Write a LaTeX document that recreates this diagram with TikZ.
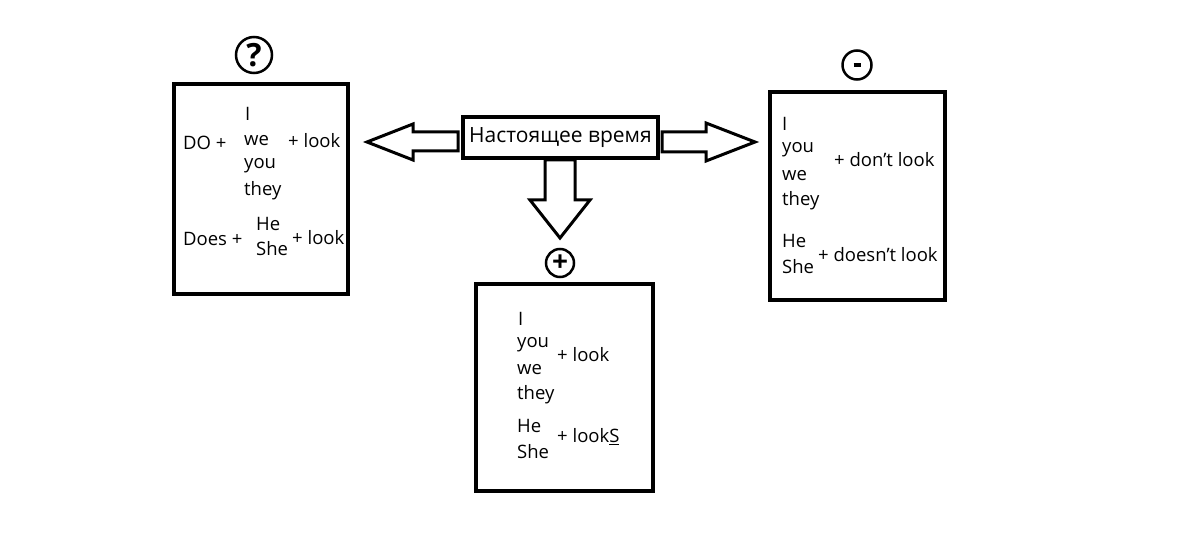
\documentclass[tikz,border=0pt]{standalone}
\usepackage{fontspec}
\setmainfont{Open Sans}
\usetikzlibrary{positioning}

\tikzset{
  box/.style={draw, line width=4pt, inner sep=0pt},
  blockarr/.style={draw, line width=3pt, line join=miter, fill=white},
  sign/.style={draw, circle, line width=2.5pt, inner sep=0pt, font=\fontsize{28}{28}\selectfont\bfseries},
  txt/.style={anchor=west, inner sep=0pt, font=\fontsize{18.5}{20}\selectfont}
}

\begin{document}
\begin{tikzpicture}[x=1pt, y=-1pt]
\useasboundingbox[fill=white] (0,0) rectangle (1200,553);

% boxes
\node[box, minimum width=174, minimum height=210] (qbox) at (261,189) {};
\node[box, minimum width=175, minimum height=208] (nbox) at (857.5,196) {};
\node[box, minimum width=177, minimum height=207] (pbox) at (564.5,387.5) {};

% block arrows
\draw[blockarr] (458,132) -- (413,132) -- (413,124) -- (367,142) -- (413,160) -- (413,151) -- (458,151) -- cycle;
\draw[blockarr] (662,132) -- (706,132) -- (706,123) -- (755,142) -- (706,161) -- (706,152) -- (662,152) -- cycle;
\draw[blockarr] (545,160) -- (575,160) -- (575,200) -- (590,200) -- (560,238) -- (530,200) -- (545,200) -- cycle;

\node[box, fill=white, minimum width=195, minimum height=41,
  font=\fontsize{21}{24}\selectfont] (now) at (560.5,137.5) {Настоящее время};

% signs
\node[sign, minimum size=36, font=\fontsize{32}{32}\selectfont\bfseries] (qsign) at (254,55) {?};
\node[sign, minimum size=29] (nsign) at (857,65) {\rule{7pt}{4pt}};
\node[sign, minimum size=28] (psign) at (560,263) {+};

% question
\node[txt] (q_do) at (183,143) {DO +};
\node[txt] (q_i) at (245,114) {I};
\node[txt] (q_we) at (244,141) {we};
\node[txt] (q_you) at (244,166) {you};
\node[txt] (q_they) at (244,191) {they};
\node[txt] (q_look) at (288,141) {+ look};
\node[txt] (q_does) at (183,239) {Does +};
\node[txt] (q_he) at (256,224) {He};
\node[txt] (q_she) at (256,249) {She};
\node[txt] (q_look2) at (292,238) {+ look};

% negative
\node[txt] (n_i) at (782,124) {I};
\node[txt] (n_you) at (782,150) {you};
\node[txt] (n_we) at (782,176) {we};
\node[txt] (n_they) at (782,201) {they};
\node[txt] (n_look) at (834,160) {+ don't look};
\node[txt] (n_he) at (782,241) {He};
\node[txt] (n_she) at (782,267) {She};
\node[txt] (n_look2) at (818,255) {+ doesn't look};

% positive
\node[txt] (p_i) at (518,319) {I};
\node[txt] (p_you) at (517,345) {you};
\node[txt] (p_we) at (517,370) {we};
\node[txt] (p_they) at (517,395) {they};
\node[txt] (p_look) at (557,355) {+ look};
\node[txt] (p_he) at (517,426) {He};
\node[txt] (p_she) at (517,452) {She};
\node[txt] (p_look2) at (557,437) {+ look\underline{S}};
\end{tikzpicture}
\end{document}
